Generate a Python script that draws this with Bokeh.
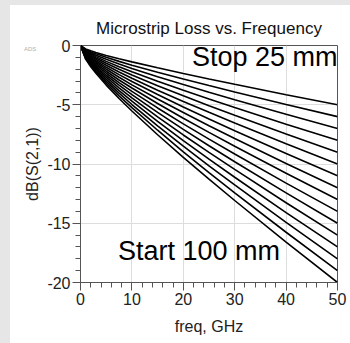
from bokeh.plotting import figure
from bokeh.models import Range1d, Label, FixedTicker, PrintfTickFormatter
from bokeh.embed import file_html
from bokeh.resources import INLINE

# frequency points (GHz)
freq_ghz = [0, 1, 2, 3, 5, 7.5, 10, 15, 20, 25, 30, 40, 50]

# dB(S(2,1)) for each microstrip length
loss_25mm = [0, -0.29, -0.45, -0.59, -0.84, -1.12, -1.38, -1.88, -2.36, -2.82, -3.27, -4.15, -5.0]
loss_30mm = [0, -0.35, -0.54, -0.70, -1.00, -1.34, -1.66, -2.26, -2.83, -3.38, -3.92, -4.98, -6.0]
loss_35mm = [0, -0.40, -0.63, -0.82, -1.17, -1.56, -1.94, -2.64, -3.30, -3.95, -4.58, -5.81, -7.0]
loss_40mm = [0, -0.46, -0.72, -0.94, -1.34, -1.79, -2.21, -3.01, -3.78, -4.51, -5.23, -6.64, -8.0]
loss_45mm = [0, -0.52, -0.81, -1.05, -1.50, -2.01, -2.49, -3.39, -4.25, -5.08, -5.89, -7.47, -9.0]
loss_50mm = [0, -0.58, -0.90, -1.17, -1.67, -2.24, -2.77, -3.77, -4.72, -5.64, -6.54, -8.30, -10.0]
loss_55mm = [0, -0.63, -0.98, -1.29, -1.84, -2.46, -3.04, -4.14, -5.19, -6.20, -7.19, -9.12, -11.0]
loss_60mm = [0, -0.69, -1.07, -1.40, -2.00, -2.68, -3.32, -4.52, -5.66, -6.77, -7.85, -9.95, -12.0]
loss_65mm = [0, -0.75, -1.16, -1.52, -2.17, -2.91, -3.59, -4.89, -6.14, -7.33, -8.50, -10.78, -13.0]
loss_70mm = [0, -0.81, -1.25, -1.64, -2.34, -3.13, -3.87, -5.27, -6.61, -7.90, -9.16, -11.61, -14.0]
loss_75mm = [0, -0.86, -1.34, -1.76, -2.51, -3.35, -4.15, -5.65, -7.08, -8.46, -9.81, -12.44, -15.0]
loss_80mm = [0, -0.92, -1.43, -1.87, -2.67, -3.58, -4.42, -6.02, -7.55, -9.02, -10.46, -13.27, -16.0]
loss_85mm = [0, -0.98, -1.52, -1.99, -2.84, -3.80, -4.70, -6.40, -8.02, -9.59, -11.12, -14.10, -17.0]
loss_90mm = [0, -1.04, -1.61, -2.11, -3.01, -4.02, -4.98, -6.78, -8.50, -10.15, -11.77, -14.93, -18.0]
loss_95mm = [0, -1.09, -1.70, -2.22, -3.17, -4.25, -5.25, -7.15, -8.97, -10.72, -12.43, -15.76, -19.0]
loss_100mm = [0, -1.15, -1.79, -2.34, -3.34, -4.47, -5.53, -7.53, -9.44, -11.28, -13.08, -16.59, -20.0]

series = [loss_25mm, loss_30mm, loss_35mm, loss_40mm, loss_45mm, loss_50mm, loss_55mm, loss_60mm,
          loss_65mm, loss_70mm, loss_75mm, loss_80mm, loss_85mm, loss_90mm, loss_95mm, loss_100mm]

x_ticks = [0, 10, 20, 30, 40, 50]
y_ticks = [-20, -15, -10, -5, 0]

FONT = "Liberation Sans"

p = figure(width=350, height=343, output_backend="svg", toolbar_location=None,
           x_range=Range1d(0, 50), y_range=Range1d(-20, 0),
           min_border_left=80, min_border_right=13, min_border_top=45, min_border_bottom=61,
           border_fill_color="white", background_fill_color="white",
           outline_line_color="#555555")

p.title.text = "Microstrip Loss vs. Frequency"
p.title.align = "center"
p.title.text_font = FONT
p.title.text_font_size = "17px"
p.title.text_font_style = "normal"
p.title.text_color = "#111111"
p.title.standoff = 16

for ys in series:
    p.line(freq_ghz, ys, line_color="black", line_width=1.6)

for ax in (p.xaxis[0], p.yaxis[0]):
    ax.major_tick_out = 8
    ax.major_tick_in = 0
    ax.minor_tick_out = 5
    ax.minor_tick_in = 0
    ax.axis_line_color = "#555555"
    ax.major_tick_line_color = "#555555"
    ax.minor_tick_line_color = "#555555"
    ax.major_label_text_font = FONT
    ax.major_label_text_font_size = "16px"
    ax.major_label_text_color = "#222222"
    ax.axis_label_text_font = FONT
    ax.axis_label_text_font_size = "16px"
    ax.axis_label_text_font_style = "normal"
    ax.axis_label_text_color = "#222222"
    ax.major_label_standoff = 2
    ax.formatter = PrintfTickFormatter(format="%d")

p.xaxis.ticker = FixedTicker(ticks=x_ticks, minor_ticks=list(range(0, 51, 2)))
p.yaxis.ticker = FixedTicker(ticks=y_ticks, minor_ticks=list(range(-20, 1)))
p.xaxis.axis_label = "freq, GHz"
p.yaxis.axis_label = "dB(S(2,1))"
p.xaxis.axis_label_standoff = 10
p.yaxis.axis_label_standoff = 3

p.xgrid.grid_line_color = "#dddddd"
p.ygrid.grid_line_color = "#dddddd"

p.add_layout(Label(x=50, y=-1.0, text="Stop 25 mm", text_align="right", text_baseline="alphabetic",
                   text_font=FONT, text_font_size="27px", text_color="black"))
p.add_layout(Label(x=7.3, y=-17.3, text="Start 100 mm", text_align="left", text_baseline="alphabetic",
                   text_font=FONT, text_font_size="27px", text_color="black"))

template = """
{% block postamble %}
<style>
  body { overflow: hidden; }
  .strip-left { position: absolute; left: 0; top: 0; width: 10px; height: 343px; background: #e6e6e6; z-index: 10; }
  .strip-top { position: absolute; left: 0; top: 0; width: 350px; height: 5px; background: #e6e6e6; z-index: 10; }
  .ads-mark { position: absolute; left: 24px; top: 46px; font: 6px 'Liberation Sans', sans-serif; color: #b0b0b0; z-index: 10; }
</style>
{% endblock %}
{% block contents %}
{{ super() }}
<div class="strip-left"></div>
<div class="strip-top"></div>
<div class="ads-mark">ADS</div>
{% endblock %}
"""

open("out.html", "w").write(file_html(p, INLINE, template=template))
